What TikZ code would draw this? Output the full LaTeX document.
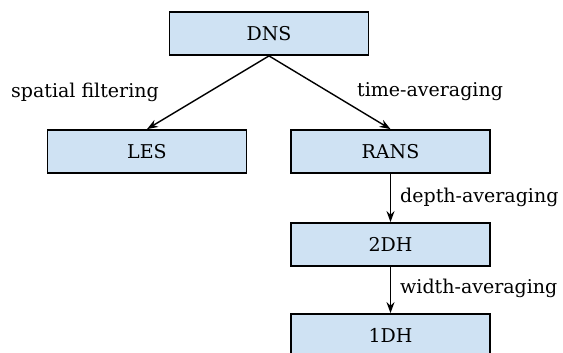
\documentclass[tikz,border=0pt]{standalone}
\usepackage{fontspec}
\setmainfont{DejaVu Serif}
\usetikzlibrary{arrows.meta}
\definecolor{boxfill}{HTML}{CFE2F3}
\begin{document}
\begin{tikzpicture}[x=1pt,y=-1pt,
  box/.style={draw=black,fill=boxfill,line width=1.8pt,minimum width=199pt,minimum height=43pt,inner sep=0pt,font=\fontsize{19}{22}\selectfont},
  lbl/.style={font=\fontsize{19}{22}\selectfont,inner sep=0pt},
  arr/.style={line width=1.4pt,-{Stealth[length=11pt,width=8pt]}}]
\useasboundingbox (0,0) rectangle (563,353);
\clip (0,0) rectangle (563,353);
\node[box] (dns) at (269,33.5) {DNS};
\node[box] (les) at (147,151.5) {LES};
\node[box] (rans) at (390.5,151.5) {RANS};
\node[box] (twodh) at (390.5,244.5) {2DH};
\node[box] (onedh) at (390.5,335.5) {1DH};
\draw[arr] (dns.south) -- (les.north);
\draw[arr] (dns.south) -- (rans.north);
\draw[arr] (rans.south) -- (twodh.north);
\draw[arr] (twodh.south) -- (onedh.north);
\node[lbl,anchor=west] (l1) at (11,92) {spatial filtering};
\node[lbl,anchor=west] (l2) at (357,92) {time-averaging};
\node[lbl,anchor=west] (l3) at (400,197) {depth-averaging};
\node[lbl,anchor=west] (l4) at (400,288) {width-averaging};
\end{tikzpicture}
\end{document}
